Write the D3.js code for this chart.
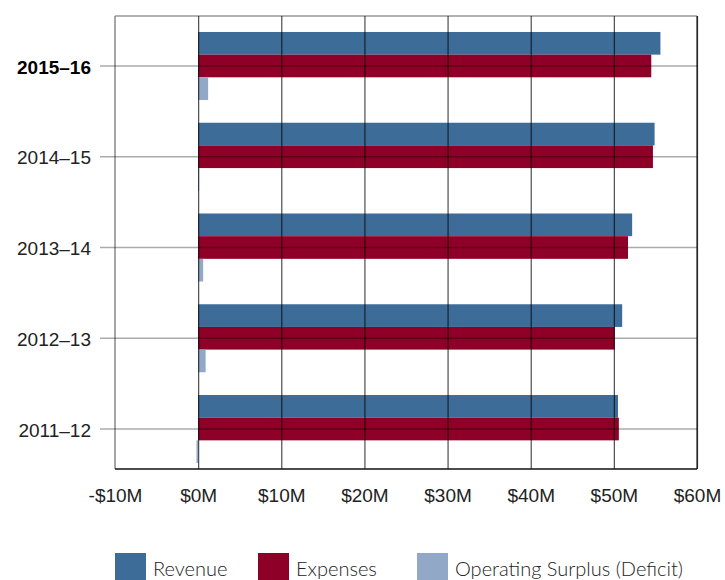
<!DOCTYPE html>
<html>
<head>
<meta charset="utf-8">
<script src="https://cdn.jsdelivr.net/npm/d3@7"></script>
<style>
  body { margin: 0; background: #fff; }
  svg { display: block; font-family: Lato, "Open Sans", sans-serif; }
</style>
</head>
<body>
<div id="chart"></div>
<script>
// values in $M (top row first)
const years = ["2015–16", "2014–15", "2013–14", "2012–13", "2011–12"];
const revenue = [55.6, 54.9, 52.2, 51.0, 50.5];
const expenses = [54.5, 54.7, 51.7, 50.1, 50.6];
const surplus = [1.2, 0.1, 0.6, 0.9, -0.2];
const seriesNames = ["Revenue", "Expenses", "Operating Surplus (Deficit)"];
const xTicks = [-10, 0, 10, 20, 30, 40, 50, 60];

const width = 725, height = 580;
const plot = { left: 115, right: 697, top: 16, bottom: 469 };
const colors = ["#3e6c98", "#8f0029", "#91a8c7"];

const svg = d3.select("#chart").append("svg")
    .attr("width", width)
    .attr("height", height);

const x = d3.scaleLinear()
    .domain([-10, 60])
    .range([plot.left, plot.right]);

const y = d3.scaleBand()
    .domain(years)
    .range([20.6, 474.4]);

// inner band for the three bars of a year, centred on the year's line
const y1 = d3.scaleBand()
    .domain(seriesNames)
    .range([-34, 34]);

const rows = years.map((yr, i) => ({
    year: yr,
    values: [revenue[i], expenses[i], surplus[i]]
}));

// frame
svg.append("line")
    .attr("x1", plot.left).attr("x2", plot.right)
    .attr("y1", plot.top).attr("y2", plot.top)
    .attr("stroke", "#999").attr("stroke-width", 1.5);
svg.append("line")
    .attr("x1", plot.left).attr("x2", plot.left)
    .attr("y1", plot.top).attr("y2", plot.bottom)
    .attr("stroke", "#888").attr("stroke-width", 1.5);
svg.append("line")
    .attr("x1", plot.right).attr("x2", plot.right)
    .attr("y1", plot.top).attr("y2", plot.bottom)
    .attr("stroke", "#555").attr("stroke-width", 1.5);

// Bars
const groups = svg.selectAll("g.year")
    .data(rows)
    .enter()
    .append("g")
    .attr("class", "year")
    .attr("transform", d => `translate(0, ${y(d.year) + y.bandwidth() / 2})`);

groups.selectAll("rect")
    .data(d => d.values.map((v, k) => ({ name: seriesNames[k], value: v, k: k })))
    .enter()
    .append("rect")
    .attr("x", d => x(Math.min(0, d.value)))
    .attr("y", d => y1(d.name))
    .attr("width", d => Math.max(1, Math.abs(x(d.value) - x(0))))
    .attr("height", y1.bandwidth())
    .attr("fill", d => colors[d.k]);

// X axis + vertical gridlines
const xAxis = svg.append("g")
    .attr("transform", `translate(0, ${plot.bottom})`)
    .call(d3.axisBottom(x)
        .tickValues(xTicks)
        .tickSizeInner(-(plot.bottom - plot.top))
        .tickSizeOuter(0)
        .tickPadding(20)
        .tickFormat(d => (d < 0 ? "-" : "") + "$" + Math.abs(d) + "M"));
xAxis.select(".domain").remove();
xAxis.selectAll(".tick line")
    .attr("stroke", "#000")
    .attr("stroke-opacity", d => d === -10 ? 0 : 0.7)
    .attr("stroke-width", 1.2);
xAxis.selectAll(".tick text")
    .attr("font-size", "19px")
    .attr("font-weight", 300)
    .attr("fill", "#222");

// bottom axis line
svg.append("line")
    .attr("x1", plot.left).attr("x2", plot.right)
    .attr("y1", plot.bottom).attr("y2", plot.bottom)
    .attr("stroke", "#111").attr("stroke-width", 1.5);

// Y axis + horizontal gridlines (drawn from the right edge back past the frame)
const yAxis = svg.append("g")
    .attr("transform", `translate(${plot.right}, 0)`)
    .call(d3.axisLeft(y)
        .tickSizeInner(plot.right - 100)
        .tickSizeOuter(0)
        .tickPadding(9));
yAxis.select(".domain").remove();
yAxis.selectAll(".tick line")
    .attr("stroke", "#000")
    .attr("stroke-opacity", 0.33)
    .attr("stroke-width", 1.5);
yAxis.selectAll(".tick text")
    .attr("font-size", "19px")
    .attr("dy", "0.4em")
    .attr("font-weight", d => d === "2015–16" ? "bold" : 300)
    .attr("fill", d => d === "2015–16" ? "#000" : "#222");

// Legend
const legendX = [115, 258, 417];
const legend = svg.selectAll("g.legend")
    .data(seriesNames)
    .enter()
    .append("g")
    .attr("class", "legend")
    .attr("transform", (d, i) => `translate(${legendX[i]}, 553)`);

legend.append("rect")
    .attr("width", 31)
    .attr("height", 27)
    .attr("fill", (d, i) => colors[i]);

legend.append("text")
    .attr("x", 38)
    .attr("y", 23)
    .attr("font-size", "20px")
    .attr("font-weight", 300)
    .attr("fill", "#222")
    .text(d => d);
</script>
</body>
</html>
